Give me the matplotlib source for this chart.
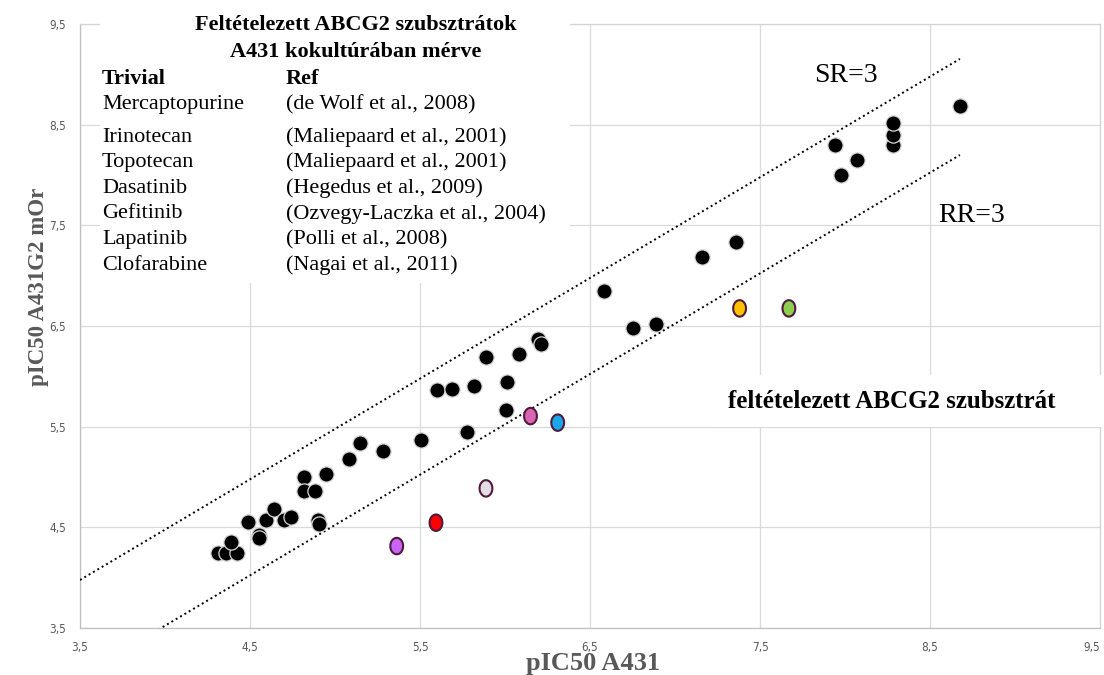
import numpy as np
import matplotlib
matplotlib.use("Agg")
import matplotlib.pyplot as plt
from matplotlib.path import Path
from matplotlib.patches import Rectangle

# ---- data -------------------------------------------------------------
# measured compounds (black)
x_black = [4.31, 4.36, 4.425, 4.39, 4.49, 4.55, 4.55, 4.594, 4.64, 4.70, 4.74,
           4.82, 4.82, 4.88, 4.90, 4.906, 4.945, 5.08, 5.147, 5.28, 5.504,
           5.60, 5.686, 5.775, 5.82, 5.888, 6.01, 6.006, 6.084, 6.196, 6.21,
           6.584, 6.755, 6.888, 7.157, 7.36, 7.94, 7.976, 8.07, 8.28, 8.28,
           8.28, 8.676]
y_black = [4.25, 4.25, 4.25, 4.35, 4.556, 4.42, 4.39, 4.57, 4.68, 4.57, 4.60,
           5.00, 4.86, 4.86, 4.57, 4.53, 5.03, 5.175, 5.34, 5.26, 5.37,
           5.86, 5.87, 5.443, 5.90, 6.19, 5.94, 5.665, 6.22, 6.367, 6.32,
           6.85, 6.476, 6.52, 7.187, 7.336, 8.30, 8.00, 8.15, 8.30, 8.40,
           8.52, 8.69]

# putative ABCG2 substrates (coloured)
x_sub = [5.363, 5.594, 5.888, 6.15, 6.31, 7.38, 7.67]
y_sub = [4.314, 4.546, 4.887, 5.605, 5.54, 6.675, 6.675]
c_sub = ["#c966f5", "#ff0000", "#e4dce4", "#d964b4", "#1aa6ea", "#ffc000", "#8fcf50"]

ticks = [3.5, 4.5, 5.5, 6.5, 7.5, 8.5, 9.5]
tick_labels = ["3,5", "4,5", "5,5", "6,5", "7,5", "8,5", "9,5"]

drugs = ["Mercaptopurine", "Irinotecan", "Topotecan", "Dasatinib",
         "Gefitinib", "Lapatinib", "Clofarabine"]
refs = ["(de Wolf et al., 2008)", "(Maliepaard et al., 2001)",
        "(Maliepaard et al., 2001)", "(Hegedus et al., 2009)",
        "(Ozvegy-Laczka et al., 2004)", "(Polli et al., 2008)",
        "(Nagai et al., 2011)"]

ratio = 3  # SR / RR threshold

# ---- figure -----------------------------------------------------------
W, H = 1104, 675
fig = plt.figure(figsize=(W / 100, H / 100), dpi=100)
ax = fig.add_axes([80 / W, 47 / H, 1020 / W, 604 / H])

SERIF = ["Liberation Serif", "DejaVu Serif"]
GRAY = "#595959"

def px(xp, yp):
    """figure-fraction position from pixel position (origin top-left)"""
    return xp / W, 1 - yp / H

ax.set_xlim(3.5, 9.5)
ax.set_ylim(3.5, 9.5)
ax.set_xticks(ticks)
ax.set_yticks(ticks)
ax.set_xticklabels(tick_labels)
ax.set_yticklabels(tick_labels)
ax.tick_params(length=0, labelsize=8.5, labelcolor=GRAY)
ax.tick_params(axis="x", pad=9)
ax.tick_params(axis="y", pad=10)
for lab in ax.get_xticklabels() + ax.get_yticklabels():
    lab.set_fontfamily(["DejaVu Sans"])
    lab.set_fontstretch("condensed")
ax.get_xticklabels()[-1].set_horizontalalignment("right")
ax.set_axisbelow(True)
ax.grid(True, color="#dadada", lw=0.9)
for side, sp in ax.spines.items():
    sp.set_color("#d4d4d4" if side in ("top", "right") else "#bfbfbf")
    sp.set_linewidth(0.9)
    sp.set_zorder(0.8)

# ratio lines
off = np.log10(ratio)
xl = np.array([3.5, max(x_black)])
ax.plot(xl, xl + off, color="black", lw=1.4, ls=(0, (1, 1.6)), zorder=2)
ax.plot(xl, xl - off, color="black", lw=1.4, ls=(0, (1, 1.6)), zorder=2)

# points
ax.scatter(x_black, y_black, s=120, c="black", edgecolors="#d8d8d8",
           linewidths=0.9, zorder=4)
t = np.linspace(0, 2 * np.pi, 64)
ellipse = Path(np.column_stack([0.78 * np.cos(t), np.sin(t)]), closed=True)
ax.scatter(x_sub, y_sub, s=140, c=c_sub, marker=ellipse, edgecolors="#4f1a3e",
           linewidths=1.5, zorder=4)

# white panel with the substrate table
fig.patches.append(Rectangle(px(100, 283), 470 / W, 285 / H, transform=fig.transFigure,
                             facecolor="white", edgecolor="none", zorder=3))
fig.text(*px(356, 25), "Feltételezett ABCG2 szubsztrátok", ha="center", va="center",
         fontsize=16, fontweight="bold", family=SERIF, zorder=5)
fig.text(*px(356, 52), "A431 kokultúrában mérve", ha="center", va="center",
         fontsize=16, fontweight="bold", family=SERIF, zorder=5)
fig.text(*px(102, 79), "Trivial", ha="left", va="center",
         fontsize=16, fontweight="bold", family=SERIF, zorder=5)
fig.text(*px(286, 79), "Ref", ha="left", va="center",
         fontsize=16, fontweight="bold", family=SERIF, zorder=5)
row_y = [105] + [137 + 25.6 * i for i in range(len(drugs) - 1)]
for name, ref, yy in zip(drugs, refs, row_y):
    fig.text(*px(102, yy), name, ha="left", va="center", fontsize=16,
             family=SERIF, zorder=5)
    fig.text(*px(286, yy), ref, ha="left", va="center", fontsize=16,
             family=SERIF, zorder=5)

# panel with the substrate caption
fig.patches.append(Rectangle(px(713, 427), 391 / W, 52 / H, transform=fig.transFigure,
                             facecolor="white", edgecolor="none", zorder=3))
fig.text(*px(892, 402), "feltételezett ABCG2 szubsztrát", ha="center", va="center",
         fontsize=18, fontweight="bold", family=SERIF, zorder=5)

fig.text(*px(846, 75), "SR=3", ha="center", va="center", fontsize=20,
         family=SERIF, zorder=5)
fig.text(*px(972, 215), "RR=3", ha="center", va="center", fontsize=20,
         family=SERIF, zorder=5)

# axis titles
fig.text(*px(593, 670), "pIC50 A431", ha="center", va="baseline", fontsize=19,
         fontweight="bold", family=SERIF, color=GRAY)
fig.text(*px(39, 287), "pIC50 A431G2 mOr", ha="center", va="center", fontsize=16.5,
         fontweight="bold", family=SERIF, color=GRAY, rotation=90)

fig.savefig("out.png", dpi=100)
